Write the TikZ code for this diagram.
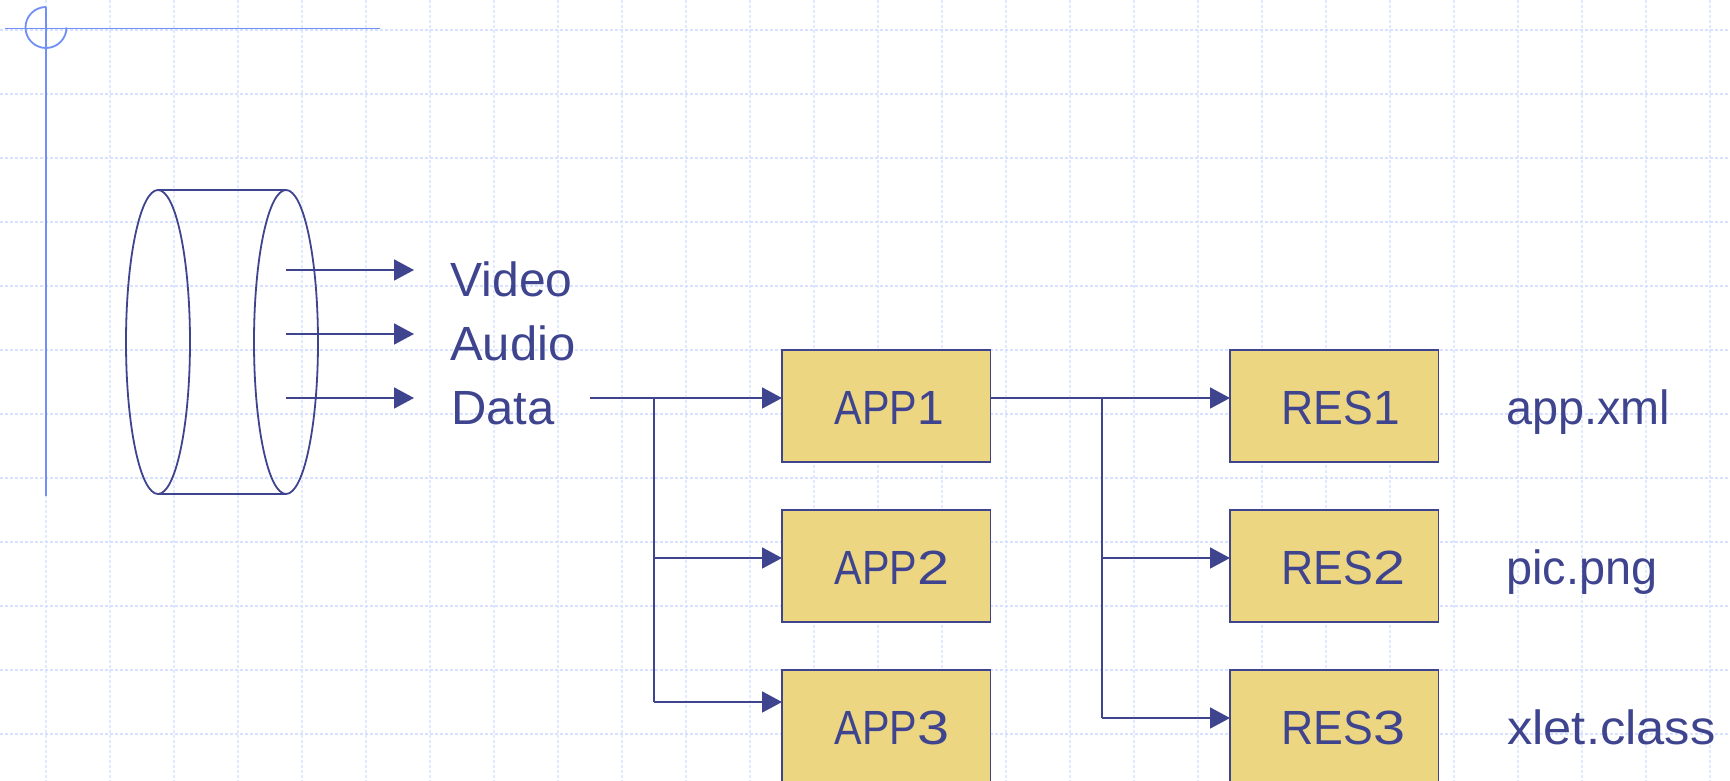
\documentclass[tikz,border=0pt]{standalone}
\usepackage{fontspec}
\setmainfont{Liberation Sans}
\newfontfamily\appfont[FakeStretch=0.86]{Liberation Sans}
\newfontfamily\resfont[FakeStretch=0.93]{Liberation Sans}
\newfontfamily\digitA[FakeStretch=1.2]{Liberation Sans}
\newfontfamily\digitB[FakeStretch=1.2]{Liberation Sans}
\newfontfamily\streamfont[FakeStretch=1.02]{Liberation Sans}
\newfontfamily\filefont[FakeStretch=0.975]{Liberation Sans}
\newfontfamily\widefont[FakeStretch=1.055]{Liberation Sans}
\usetikzlibrary{arrows.meta}
\definecolor{ink}{HTML}{3F448F}
\definecolor{boxfill}{HTML}{EDD682}
\definecolor{guide}{HTML}{7090F8}
\definecolor{gridh}{HTML}{D6E2FF}
\definecolor{gridv}{HTML}{E1E9FF}
\tikzset{
  x=1pt,y=-1pt,
  gridvl/.style={gridv,line width=1.6pt,dash pattern=on 3pt off 2pt},
  gridhl/.style={gridh,line width=1.8pt,dash pattern=on 2.5pt off 2.5pt},
  guideline/.style={guide,line width=1.8pt},
  conn/.style={ink,line width=1.8pt},
  arrowc/.style={conn,-{Triangle[length=20pt,width=21pt]}},
  stream/.style={anchor=base west,inner sep=0pt,text=ink},
  appbox/.style={draw=ink,fill=boxfill,line width=1.8pt,outer sep=0pt,minimum width=208.5pt,minimum height=112pt,inner sep=0pt,text=ink,anchor=north west,text width=208.5pt,align=left,text height=36pt,text depth=0pt},
  cyl/.style={ink,line width=1.8pt},
}
\newcommand{\fsz}{\fontsize{48}{48}\selectfont}
\newcommand{\apptext}[2]{\hspace*{52.5pt}\appfont\fsz #1#2}
\newcommand{\restext}[2]{\hspace*{51.5pt}\resfont\fsz #1#2}
\begin{document}
\begin{tikzpicture}
\useasboundingbox (0,0) rectangle (1730,781);
\clip (0,0) rectangle (1730,781);
\fill[white] (0,0) rectangle (1730,781);
\foreach \k in {0,...,26}{\draw[gridvl] ({46+64*\k},0) -- ({46+64*\k},781);}
\foreach \k in {0,...,11}{\draw[gridhl] (0,{30+64*\k}) -- (1730,{30+64*\k});}
% guides
\draw[guideline] (5,28.5) -- (380,28.5);
\draw[guideline] (46,7) -- (46,496);
\draw[guideline] (46,7) arc[start angle=90,end angle=360,radius=20.5pt];
% cylinder
\draw[cyl] (158,342) ellipse[x radius=32pt,y radius=152pt];
\draw[cyl] (286,342) ellipse[x radius=32pt,y radius=152pt];
\draw[cyl] (158,190) -- (286,190);
\draw[cyl] (158,494) -- (286,494);
% labels
\node[stream] (video) at (450.5,296) {\fsz Video};
\node[stream] (audio) at (450,360) {\streamfont\fsz Audio};
\node[stream] (data) at (451,424) {\streamfont\fsz Data};
\coordinate (v0) at (286,270); \coordinate (v1) at (414,270);
\coordinate (a0) at (286,334); \coordinate (a1) at (414,334);
\coordinate (d0) at (286,398); \coordinate (d1) at (414,398);
\draw[arrowc] (v0) -- (v1);
\draw[arrowc] (a0) -- (a1);
\draw[arrowc] (d0) -- (d1);
% boxes
\node[appbox] (app1) at (782,350) {\apptext{APP}{\rmfamily 1}};
\node[appbox] (app2) at (782,510) {\apptext{APP}{\digitA 2}};
\node[appbox] (app3) at (782,670) {\apptext{APP}{\digitA 3}};
\node[appbox] (res1) at (1230,350) {\restext{RES}{\rmfamily 1}};
\node[appbox] (res2) at (1230,510) {\restext{RES}{\digitB 2}};
\node[appbox] (res3) at (1230,670) {\restext{RES}{\digitB 3}};
\node[stream] (f1) at (1506,424) {\filefont\fsz app.xml};
\node[stream] (f2) at (1506,584) {\filefont\fsz pic.png};
\node[stream] (f3) at (1507,744) {\widefont\fsz xlet.class};
% connectors
\coordinate (ds) at (590,398);
\coordinate (j1) at (654,398);
\coordinate (j2) at (654,558);
\coordinate (j3) at (654,702);
\draw[arrowc] (ds) -- (app1.west |- ds);
\draw[conn] (j1) -- (j3);
\draw[arrowc] (j2) -- (app2.west |- j2);
\draw[arrowc] (j3) -- (app3.west |- j3);
\coordinate (k1) at (1102,398);
\coordinate (k2) at (1102,558);
\coordinate (k3) at (1102,718);
\draw[arrowc] (app1.east |- k1) -- (res1.west |- k1);
\draw[conn] (k1) -- (k3);
\draw[arrowc] (k2) -- (res2.west |- k2);
\draw[arrowc] (k3) -- (res3.west |- k3);
\end{tikzpicture}
\end{document}
